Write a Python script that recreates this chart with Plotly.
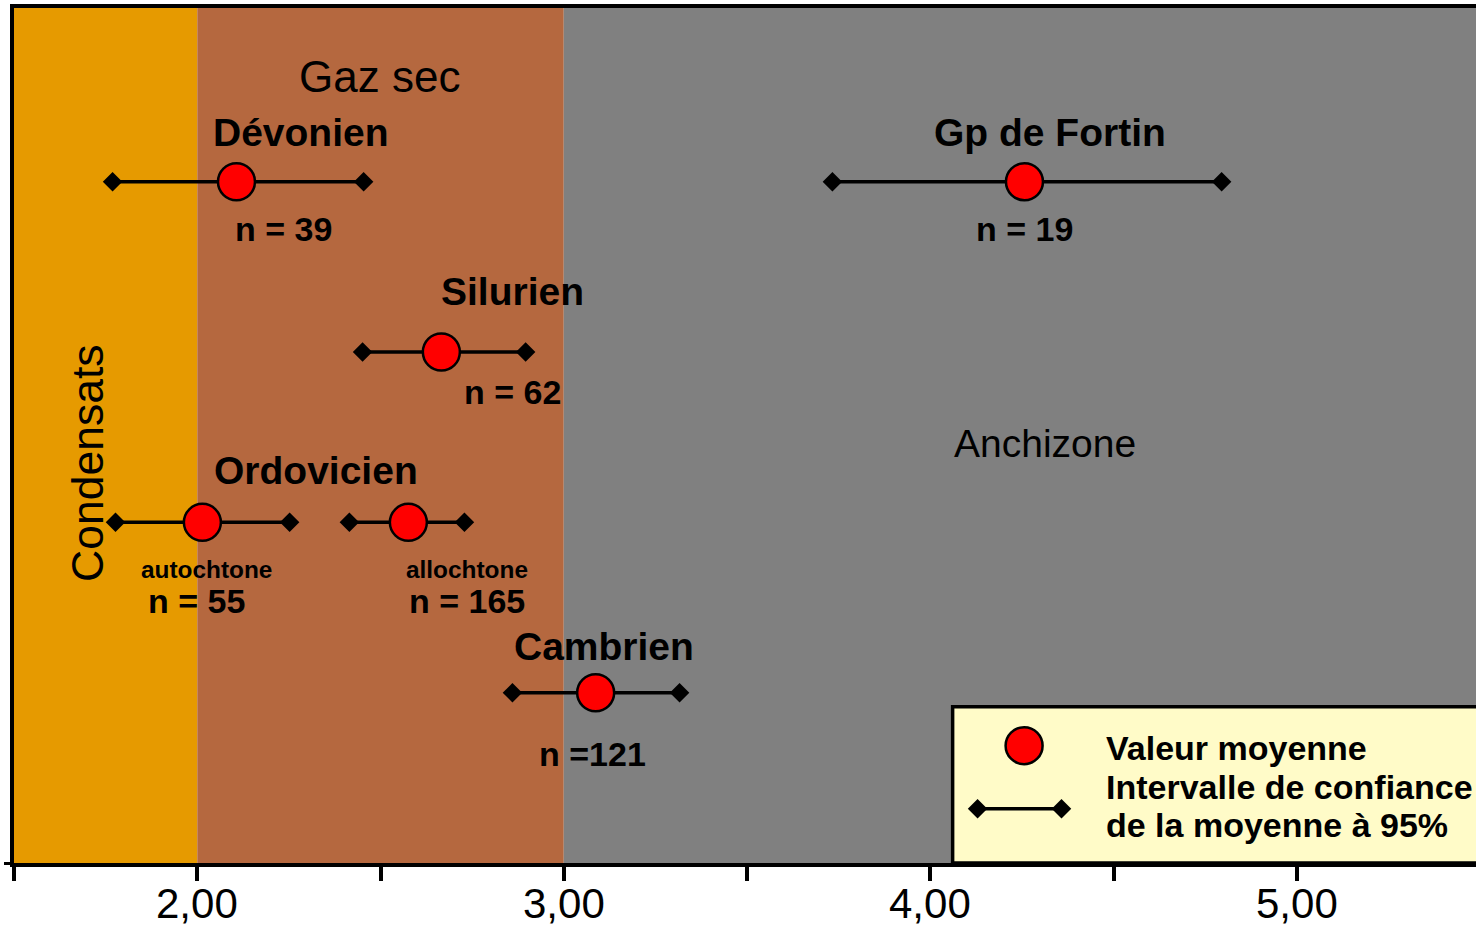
import plotly.graph_objects as go

# Mean value and 95% confidence interval per formation
groups = ["Dévonien", "Gp de Fortin", "Silurien", "Ordovicien autochtone",
          "Ordovicien allochtone", "Cambrien"]
rows = [4, 4, 3, 2, 2, 1]
means = [2.107, 4.257, 2.666, 2.014, 2.576, 3.087]
ci_low = [1.769, 3.733, 2.451, 1.777, 2.415, 2.860]
ci_high = [2.454, 4.795, 2.896, 2.252, 2.729, 3.316]

# Zone limits on the x axis
zone_names = ["Condensats", "Gaz sec", "Anchizone"]
zone_edges = [1.5, 2.0, 3.0, 5.6]
zone_colors = ["#E69A00", "#B5683F", "#808080"]

# Tick positions and labels
tick_vals = [1.5, 2.0, 2.5, 3.0, 3.5, 4.0, 4.5, 5.0]
tick_text = ["", "2,00", "", "3,00", "", "4,00", "", "5,00"]

FONT = "Liberation Sans, Arial, sans-serif"

fig = go.Figure()

# Background zones
for i, c in enumerate(zone_colors):
    fig.add_shape(type="rect", xref="x", yref="y domain",
                  x0=zone_edges[i], x1=zone_edges[i + 1], y0=0, y1=1,
                  fillcolor=c, line_width=0, layer="below")

# Legend box (bottom right), kept under the traces
fig.add_shape(type="rect", xref="x", yref="y",
              x0=4.061, x1=5.6, y0=0.0, y1=0.918,
              fillcolor="#FFFBC8", line=dict(color="black", width=3.5),
              layer="below")

# Confidence interval bars with diamond ends
for g, r, lo, hi in zip(groups, rows, ci_low, ci_high):
    fig.add_trace(go.Scatter(
        x=[lo, hi], y=[r, r], mode="lines+markers",
        line=dict(color="black", width=3.5),
        marker=dict(symbol="diamond", size=15, color="black"),
        showlegend=False, hoverinfo="skip", cliponaxis=False))

# Mean values
fig.add_trace(go.Scatter(
    x=means, y=rows, mode="markers", text=groups,
    marker=dict(symbol="circle", size=37, color="#FF0000",
                line=dict(color="black", width=2.5)),
    showlegend=False, cliponaxis=False))

# Legend symbols
fig.add_trace(go.Scatter(
    x=[4.256], y=[0.689], mode="markers",
    marker=dict(symbol="circle", size=37, color="#FF0000",
                line=dict(color="black", width=2.5)),
    showlegend=False, hoverinfo="skip"))
fig.add_trace(go.Scatter(
    x=[4.129, 4.358], y=[0.319, 0.319], mode="lines+markers",
    line=dict(color="black", width=3.5),
    marker=dict(symbol="diamond", size=15, color="black"),
    showlegend=False, hoverinfo="skip"))

annotations = []


def label(text, x, y, size, bold=True, **kw):
    t = f"<b>{text}</b>" if bold else text
    annotations.append(dict(text=t, x=x, y=y, xref="x", yref="y",
                            showarrow=False, font=dict(family=FONT, size=size, color="black"),
                            **kw))


# Zone names
label(zone_names[1], 2.497, 4.617, 44, bold=False)
label(zone_names[2], 4.312, 2.461, 39, bold=False)
label(zone_names[0], 1.70, 2.351, 44.5, bold=False, textangle=-90)

# Formation names and sample sizes
label("Dévonien", 2.284, 4.29, 39)
label("n = 39", 2.235, 3.725, 34)
label("Gp de Fortin", 4.328, 4.29, 39)
label("n = 19", 4.257, 3.725, 34)
label("Silurien", 2.860, 3.356, 39)
label("n = 62", 2.860, 2.768, 34)
label("Ordovicien", 2.325, 2.304, 39)
label("autochtone", 2.025, 1.722, 24.4)
label("n = 55", 1.998, 1.540, 34)
label("allochtone", 2.735, 1.722, 24.4)
label("n = 165", 2.735, 1.540, 34)
label("Cambrien", 3.111, 1.269, 39)
label("n =121", 3.078, 0.642, 34)

# Legend text
label("Valeur moyenne", 4.473, 0.677, 34, xanchor="left")
label("Intervalle de confiance", 4.473, 0.448, 34, xanchor="left")
label("de la moyenne à 95%", 4.473, 0.225, 34, xanchor="left")

# X tick labels placed just under the axis
for v, t in zip(tick_vals, tick_text):
    if t:
        annotations.append(dict(text=t, x=v, y=0, xref="x", yref="paper",
                                yanchor="middle", yshift=-40, showarrow=False,
                                font=dict(family=FONT, size=42, color="black")))

fig.update_layout(
    width=1476, height=929,
    margin=dict(l=14, r=0, t=8, b=66),
    paper_bgcolor="white", plot_bgcolor="white",
    annotations=annotations,
    xaxis=dict(range=[1.5, 5.489], tickvals=tick_vals, showticklabels=False,
               ticks="outside", ticklen=14, tickwidth=3.5, tickcolor="black",
               showline=True, linewidth=4, linecolor="black", mirror=True,
               showgrid=False, zeroline=False, automargin=False),
    yaxis=dict(range=[0, 5.02], tickvals=[0], ticktext=[""],
               ticks="outside", ticklen=6, tickwidth=3, tickcolor="black",
               showline=True, linewidth=4, linecolor="black", automargin=False,
               showgrid=False, zeroline=False, showticklabels=False),
    font=dict(family=FONT),
)

fig.write_html("out.html")
